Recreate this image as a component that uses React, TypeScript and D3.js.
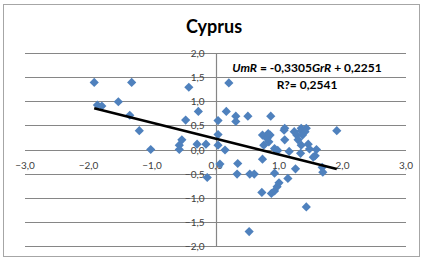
import { useEffect, useRef } from "react";
import * as d3 from "d3";

// growth rate (x) vs unemployment rate change (y)
const grR = [
  -1.91, -1.32, -1.86, -1.79, -1.53, -1.35, -1.2, -1.02, -0.42, 0.21,
  -0.47, -0.27, -0.53, -0.57, -0.57, -0.29, -0.15, -0.13, 0.04, 0.17,
  0.32, 0.32, 0.51, 0.87, 0.04, 0.04, 0.15, 0.07, 0.35, 0.34,
  0.54, 0.61, 0.53, 0.74, 0.86, 0.76, 0.84, 0.81, 0.83, 0.93,
  0.74, 0.93, 0.73, 0.88, 0.93, 0.97, 1.0, 1.14, 1.26, 1.43,
  1.09, 1.08, 1.09, 1.24, 1.28, 1.35, 1.43, 1.35, 1.41, 1.37,
  1.3, 1.35, 1.46, 1.48, 1.59, 1.34, 1.16, 0.98, 1.57, 1.54,
  1.68, 1.69, 1.91,
];
const umR = [
  1.39, 1.39, 0.92, 0.9, 0.99, 0.71, 0.39, 0.0, 1.29, 1.38,
  0.61, 0.79, 0.2, 0.09, 0.0, 0.11, 0.11, -0.58, 0.6, 0.79,
  0.69, 0.58, 0.69, 0.69, 0.31, 0.09, -0.01, -0.3, -0.29, -0.51,
  -0.51, -0.51, -1.7, 0.3, 0.3, 0.09, 0.16, 0.23, 0.33, 0.02,
  -0.2, -0.49, -0.89, -0.91, -0.86, -0.77, -0.69, -0.6, -0.4, -1.19,
  0.44, 0.4, 0.2, 0.37, 0.3, 0.44, 0.44, 0.39, 0.37, 0.3,
  0.2, 0.09, 0.11, 0.01, 0.0, -0.08, -0.04, -0.02, -0.13, -0.16,
  -0.37, -0.47, 0.39,
];

const slope = -0.3305;
const intercept = 0.2251;
const xTicks = [-3, -2, -1, 0, 1, 2, 3];
const yTicks = [-2, -1.5, -1, -0.5, 0, 0.5, 1, 1.5, 2];

const fmt = (v: number) => d3.format(".1f")(v).replace("-", "-").replace(".", ",");

export default function App() {
  const svgRef = useRef<SVGSVGElement>(null);

  useEffect(() => {
    const width = 422;
    const height = 259;
    const font = "Lato, 'DejaVu Sans', sans-serif";

    const svg = d3.select(svgRef.current).attr("width", width).attr("height", height);
    svg.selectAll("*").remove();

    const x = d3.scaleLinear().domain([-3, 3]).range([25, 406]);
    const y = d3.scaleLinear().domain([-2, 2]).range([246, 53]);

    svg.append("rect")
      .attr("x", 0).attr("y", 0).attr("width", width).attr("height", height)
      .attr("fill", "white");
    svg.append("rect")
      .attr("x", 3.5).attr("y", 4.5).attr("width", 416).attr("height", 252)
      .attr("fill", "white").attr("stroke", "#a6a6a6").attr("stroke-width", 1);

    // gridlines
    svg.selectAll(".grid")
      .data(yTicks)
      .enter()
      .append("line")
      .attr("x1", x(-3)).attr("x2", x(3))
      .attr("y1", d => Math.round(y(d)) + 0.5).attr("y2", d => Math.round(y(d)) + 0.5)
      .attr("stroke", "#868686").attr("stroke-width", 1.2);

    // vertical axis
    svg.append("line")
      .attr("x1", Math.round(x(0)) + 0.5).attr("x2", Math.round(x(0)) + 0.5)
      .attr("y1", y(2)).attr("y2", y(-2))
      .attr("stroke", "#868686").attr("stroke-width", 1.2);

    // y labels
    svg.selectAll(".ylab")
      .data(yTicks)
      .enter()
      .append("text")
      .attr("x", x(0) - 11)
      .attr("y", d => y(d) + 4)
      .attr("text-anchor", "end")
      .attr("font-family", font).attr("font-size", "10px").attr("fill", "#404040")
      .text(d => fmt(d));

    // x labels
    svg.selectAll(".xlab")
      .data(xTicks)
      .enter()
      .append("text")
      .attr("x", d => x(d))
      .attr("y", y(0) + 19)
      .attr("text-anchor", "middle")
      .attr("font-family", font).attr("font-size", "10px").attr("fill", "#404040")
      .text(d => fmt(d));

    const pts = grR.map((g, i) => ({ g, u: umR[i] }));
    const r = 4.6;
    svg.selectAll(".dot")
      .data(pts)
      .enter()
      .append("path")
      .attr("d", d => {
        const cx = x(d.g), cy = y(d.u);
        return `M${cx},${cy - r}L${cx + r},${cy}L${cx},${cy + r}L${cx - r},${cy}Z`;
      })
      .attr("fill", "#4f81bd");

    // trend line
    const [x0, x1] = d3.extent(grR) as [number, number];
    const line = d3.line<number>().x(d => x(d)).y(d => y(slope * d + intercept));
    svg.append("path")
      .datum([x0, x1])
      .attr("d", line)
      .attr("stroke", "black").attr("stroke-width", 2.6).attr("fill", "none");

    // title
    svg.append("text")
      .attr("x", 214).attr("y", 33)
      .attr("text-anchor", "middle")
      .attr("font-family", font).attr("font-weight", "bold").attr("font-size", "18px")
      .attr("fill", "black")
      .text("Cyprus");

    // equation
    const eq = svg.append("text")
      .attr("x", 307).attr("y", 72)
      .attr("text-anchor", "middle")
      .attr("font-family", font).attr("font-weight", "bold").attr("font-size", "12px")
      .attr("fill", "black");
    eq.append("tspan").attr("font-style", "italic").text("UmR");
    eq.append("tspan").text(" = -0,3305");
    eq.append("tspan").attr("font-style", "italic").text("GrR");
    eq.append("tspan").text(" + 0,2251");

    svg.append("text")
      .attr("x", 307).attr("y", 89)
      .attr("text-anchor", "middle")
      .attr("font-family", font).attr("font-weight", "bold").attr("font-size", "12px")
      .attr("fill", "black")
      .text("R?= 0,2541");
  }, []);

  return (
    <div>
      <svg ref={svgRef} style={{ position: "absolute", left: 0, top: 0 }}></svg>
    </div>
  );
}
